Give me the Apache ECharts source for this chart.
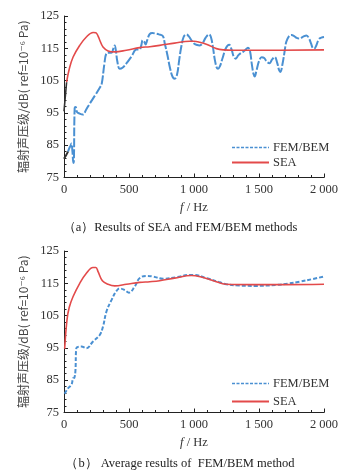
<!DOCTYPE html>
<html><head><meta charset="utf-8">
<script src="https://cdn.jsdelivr.net/npm/echarts@6/dist/echarts.min.js"></script>
<style>html,body{margin:0;padding:0;background:#fff}#c{width:360px;height:472px}</style>
</head><body><div id="c"></div>
<script>
// ---- Data (a): individual results ----
var femA_f = [31,40,50,57,65,72,76,82,90,100,120,146,170,200,240,275,290,310,326,345,365,380,390,400,410,428,450,480,520,557,580,595,605,618,628,640,659,680,700,730,760,775,795,815,835,852,870,885,900,920,941,960,980,1000,1025,1044,1065,1090,1116,1130,1145,1160,1175,1185,1200,1220,1245,1270,1290,1305,1321,1340,1360,1377,1395,1415,1430,1445,1458,1467,1480,1500,1520,1540,1560,1582,1600,1621,1640,1655,1665,1680,1695,1710,1730,1749,1770,1790,1810,1840,1865,1885,1900,1915,1925,1940,1960,1980,2000];
var femA_v = [83,84,84.8,85.5,83,79.5,80,96.5,96.8,95.3,94.8,94.5,96,98,100.5,102.8,104,110,113.4,113.6,113.6,115,115.9,114,111,108.7,109,110.3,112.5,114.6,114.6,116,117.5,117,116.2,117.5,119.4,119.7,119.6,119.3,118.8,116.5,113,109,106.2,105.6,107,111,115,118.5,119.3,118.7,117.5,116.5,116,115.9,116.5,118.3,119.3,118.5,115.5,111.5,109,108.7,109.5,112,115,116.1,114.5,112.5,111.8,112.8,113.5,113.9,114.5,115.2,114.3,110,107,106.3,108,111,112.2,112,110.8,110.4,111.5,112.3,110.5,108.2,107.7,110,113.5,117,118.7,119.1,118.8,118.2,118,118.6,119,118,116.5,115,114.9,115.8,117.8,118.3,118.5];
var femA0_f = [0,15,31];
var femA0_v = [80.8,81.8,83];
var seaA_f = [20,40,70,121,172,224,245,262,275,300,339,390,480,582,660,736,850,967,1000,1044,1100,1172,1230,1300,1500,2000];
var seaA_v = [104.5,108.5,112.3,115.9,118.5,119.9,119.8,118.8,117.5,115.4,114.2,113.9,114.4,115.2,115.5,115.9,116.6,117.2,117.2,116.9,116.2,114.9,114.5,114.4,114.4,114.5];
var seaA0_f = [0,10,20];
var seaA0_v = [95.5,100,104.5];
// ---- Data (b): averaged results ----
var femB_f = [5,31,57,70,80,88,95,134,172,223,275,300,326,365,403,428,467,500,544,582,634,685,762,870,967,1000,1095,1198,1249,1350,1480,1634,1720,1813,1910,2000];
var femB_v = [80.8,82.5,83.6,85.6,85.8,88,94.9,95.4,94.9,97,99,101.6,106.2,109.8,112.6,113.4,112.9,112.1,114,116.6,117.3,117.1,116.4,116.9,117.6,117.6,116.6,115.3,114.7,114.3,114.2,114.5,114.9,115.5,116.3,117.1];
var seaB_f = [5,23,40,70,121,172,223,245,262,295,339,390,480,582,660,736,850,980,1050,1150,1249,1428,1700,2000];
var seaB_v = [94.7,103.7,107.5,110.9,115,118.1,119.9,119.9,118.6,115.8,114.7,114.2,114.7,115.3,115.5,115.8,116.6,117.4,117,115.8,114.7,114.6,114.6,114.7];
var xTicks = [0,500,1000,1500,2000];
var yTicks = [75,85,95,105,115,125];

function pairs(f, v){ return f.map(function(x,i){ return [x, v[i]]; }); }
var serif = '"Liberation Serif","DejaVu Serif",serif';
var BLUE = '#4a90d2', RED = '#e34a4a', DARK = '#333';

function xAxis(idx){
  return {
    gridIndex: idx, type:'value', min:xTicks[0], max:xTicks[xTicks.length-1], interval:500,
    axisLine:{show:true, lineStyle:{color:'#222', width:1}},
    axisTick:{show:true, inside:true, length:4, lineStyle:{color:'#222'}},
    minorTick:{show:true, splitNumber:5, length:2.5, lineStyle:{color:'#222'}},
    splitLine:{show:false},
    axisLabel:{fontFamily:serif, fontSize:12.5, color:'#333', margin:6,
      formatter:function(v){ return v>=1000 ? Math.floor(v/1000)+' '+String(v%1000).padStart(3,'0') : String(v); }},
    name:'{i|f} / Hz', nameLocation:'middle', nameGap:24,
    nameTextStyle:{fontFamily:serif, fontSize:12.5, color:'#333', rich:{i:{fontFamily:serif, fontStyle:'italic', fontSize:12.5, color:'#333'}}}
  };
}
function yAxis(idx){
  return {
    gridIndex: idx, type:'value', min:yTicks[0], max:yTicks[yTicks.length-1], interval:10,
    axisLine:{show:true, lineStyle:{color:'#222', width:1}},
    axisTick:{show:true, inside:true, length:4, lineStyle:{color:'#222'}},
    minorTick:{show:true, splitNumber:5, length:2.5, lineStyle:{color:'#222'}},
    splitLine:{show:false},
    axisLabel:{fontFamily:serif, fontSize:12.5, color:'#333', margin:5},
    name:'辐射声压级/dB( ref=10⁻⁶ Pa)', nameLocation:'middle', nameGap:32, nameRotate:90,
    nameTextStyle:{fontFamily:'"Noto Sans CJK SC",' + serif, fontSize:12, color:'#444'}
  };
}
function line(name, idx, data, color, type, width, smooth){
  return {name:name, type:'line', xAxisIndex:idx, yAxisIndex:idx, data:data, symbol:'none',
    smooth:smooth, silent:true, animation:false,
    lineStyle:{color:color, type:type, width:width}, itemStyle:{color:color}};
}
function legend(top, gap){
  return {left:231, top:top, orient:'vertical', itemWidth:37, itemHeight:10, itemGap:gap,
    data:[{name:'FEM/BEM', lineStyle:{type:[3,1.5], width:1.6}}, {name:'SEA'}], selectedMode:false, padding:0,
    itemStyle:{opacity:0},
    textStyle:{fontFamily:serif, fontSize:12.5, color:'#333', padding:[0,0,0,-1]}};
}

var chart = echarts.init(document.getElementById('c'), null, {renderer:'canvas'});
chart.setOption({
  animation:false,
  backgroundColor:'#fff',
  grid:[
    {left:64, top:16, width:260, height:161.5},
    {left:64, top:251, width:260, height:161.5}
  ],
  xAxis:[xAxis(0), xAxis(1)],
  yAxis:[yAxis(0), yAxis(1)],
  legend:[legend(141, 2), legend(377, 5)],
  title:[
    {text:'（a）Results of SEA and FEM/BEM methods', left:180, top:221, textAlign:'center', padding:0,
      textStyle:{fontFamily:serif, fontSize:12.5, fontWeight:'normal', color:'#222'}},
    {text:'（b） Average results of  FEM/BEM method', left:180, top:457, textAlign:'center', padding:0,
      textStyle:{fontFamily:serif, fontSize:12.5, fontWeight:'normal', color:'#222'}}
  ],
  series:[
    line('FEM/BEM', 0, pairs(femA_f, femA_v), BLUE, [9,2], 2, 0.4),
    line('SEA', 0, pairs(seaA_f, seaA_v), RED, 'solid', 1.6, 0.4),
    line('', 0, pairs(femA0_f, femA0_v), DARK, 'solid', 2, 0.3),
    line('', 0, pairs(seaA0_f, seaA0_v), DARK, 'solid', 1.6, 0.3),
    line('FEM/BEM', 1, pairs(femB_f, femB_v), BLUE, [4,2], 2, 0.4),
    line('SEA', 1, pairs(seaB_f, seaB_v), RED, 'solid', 1.6, 0.4)
  ]
});
</script></body></html>
